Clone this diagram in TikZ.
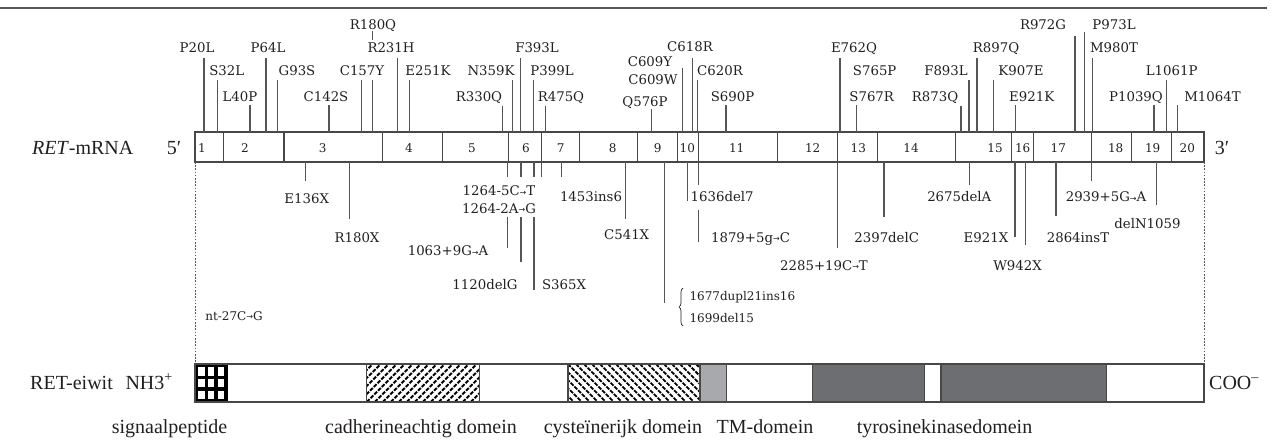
\documentclass[tikz,border=0pt]{standalone}
\usepackage{fontspec}
\setmainfont{Liberation Serif}
\newfontfamily\dvs{DejaVu Serif}
\newfontfamily\dvsans{DejaVu Sans}
\usetikzlibrary{decorations.pathreplacing}
\definecolor{lg}{HTML}{555555}
\definecolor{bx}{HTML}{474747}
\definecolor{tmgray}{HTML}{A7A9AC}
\definecolor{tkgray}{HTML}{6D6E71}
\definecolor{tx}{HTML}{231F20}
\newcommand\mutf{\dvs\fontsize{13.3}{14}\selectfont}
\newcommand\smutf{\dvs\fontsize{12}{13}\selectfont}
\newcommand\exf{\dvs\fontsize{12}{13}\selectfont}
\newcommand\bigf{\fontsize{20}{22}\selectfont}
\newcommand\arw{{\dvsans\fontsize{8}{8}\selectfont\raisebox{0.6pt}{→}}}
\tikzset{
  mut/.style={font=\mutf, text=tx, inner sep=0pt, anchor=base},
  smut/.style={font=\smutf, text=tx, inner sep=0pt, anchor=base west},
  exn/.style={font=\exf, text=tx, inner sep=0pt, anchor=base},
  big/.style={font=\bigf, text=tx, inner sep=0pt, anchor=base},
  ml/.style={draw=lg, line width=1.2pt},
  box/.style={draw=bx, line width=1.2pt},
  hatch/.style={black, line width=1.9pt, dash pattern=on 4pt off 1.3pt},
  dots/.style={draw=lg, line width=0.9pt, dash pattern=on 1.6pt off 1.6pt},
}
% name, x, top, label x, label centre y, text
\newcommand\mutU[6]{%
  \node[mut] (#1) at (#4,#5+5) {#6};
  \coordinate (#1b) at (#2,132);
  \coordinate (#1t) at (#2,#3);
  \draw[ml] (#1b) -- (#1t);}
\newcommand\mutD[6]{%
  \node[mut] (#1) at (#4,#5+5) {#6};
  \coordinate (#1b) at (#2,162);
  \coordinate (#1t) at (#2,#3);
  \draw[ml] (#1b) -- (#1t);}
\begin{document}
\begin{tikzpicture}[x=1pt,y=-1pt]
\useasboundingbox (0,0) rectangle (1279,441);
% top rule
\coordinate (rl) at (0,8); \coordinate (rr) at (1267,8);
\draw[draw=lg, line width=2.6pt] (rl) -- (rr);

% ---------- mRNA bar ----------
\node[big, anchor=base west] (mrna) at (32,154) {\textit{RET}-mRNA};
\node[big] (five) at (174,154) {5′};
\node[big] (three) at (1222,154) {3′};
\draw[box] (195,132) rectangle (1204,162);
\foreach \b in {223.3,284,382.7,442.3,508.3,541.7,579.3,637.7,677.7,698.3,777.7,837.3,877.7,955.7,1011.7,1033.3,1091.7,1131.7,1171.7}
  \draw[draw=bx, line width=1.1pt] (\b,132) -- (\b,162);
\foreach \n/\x in {1/202,2/245,3/322.7,4/409,5/472,6/526,7/560.7,8/612.7,9/657.7,10/687.3,11/736.7,12/812.7,13/858.3,14/911,15/995,16/1022.7,17/1058.3,18/1115.7,19/1152.7,20/1187.3}
  \node[exn] (e\n) at (\x,152) {\n};

% ---------- mutations above ----------
\mutU{u1}{204}{57.7}{197}{48}{P20L}
\mutU{u2}{217.3}{80}{226.7}{71}{S32L}
\mutU{u3}{250}{105}{240}{96.7}{L40P}
\mutU{u4}{266}{57.7}{268}{48}{P64L}
\mutU{u5}{277.7}{80}{297}{71}{G93S}
\mutU{u6}{329}{105}{326}{96.7}{C142S}
\mutU{u7}{361.7}{80}{362}{71}{C157Y}
\mutU{u8}{372.3}{80}{373}{25}{R180Q}
\coordinate (u8a) at (372.3,31.5); \coordinate (u8c) at (372.3,40.5);
\draw[ml] (u8a) -- (u8c);
\mutU{u9}{397.7}{57.7}{391}{48}{R231H}
\mutU{u10}{409.3}{80}{428}{71}{E251K}
\mutU{u11}{502.7}{106}{479}{96.7}{R330Q}
\mutU{u12}{512.7}{80}{491}{71}{N359K}
\mutU{u13}{520.3}{57.7}{537}{48}{F393L}
\mutU{u14}{533.3}{80}{552}{71}{P399L}
\mutU{u15}{545.7}{106}{561}{96.7}{R475Q}
\mutU{u16}{651.7}{109.3}{645}{101.7}{Q576P}
\mutU{u17}{682.7}{68.3}{650}{61.7}{C609Y}
\node[mut] (u17w) at (653,79.3+5) {C609W};
\mutU{u18}{692.7}{57.7}{690}{46.7}{C618R}
\mutU{u19}{697.7}{80}{720}{71}{C620R}
\mutU{u20}{726}{105}{732.5}{96.7}{S690P}
\mutU{u21}{840}{57.7}{854}{48}{E762Q}
\mutU{u22}{856.7}{105}{871.7}{96.7}{S767R}
\node[mut] (u22p) at (874.7,71+5) {S765P};
\mutU{u23}{961}{106}{935}{96.7}{R873Q}
\mutU{u24}{969}{80}{946}{71}{F893L}
\mutU{u25}{977}{57.7}{996}{48}{R897Q}
\mutU{u26}{993.3}{80}{1021}{71}{K907E}
\mutU{u27}{1015.7}{105}{1031.7}{96.7}{E921K}
\mutU{u28}{1075}{36}{1043}{25}{R972G}
\mutU{u29}{1084.3}{31.7}{1114}{25}{P973L}
\mutU{u30}{1092.7}{57.7}{1114}{48}{M980T}
\mutU{u31}{1166.7}{80}{1171.7}{71}{L1061P}
\mutU{u32}{1154}{105}{1136}{96.7}{P1039Q}
\mutU{u33}{1177.3}{105}{1212.5}{96.7}{M1064T}

% ---------- mutations below ----------
\mutD{d1}{305.7}{181}{306.7}{198.3}{E136X}
\mutD{d2}{349.3}{219}{357}{237.3}{R180X}
\mutD{d3}{541.7}{177.3}{499}{190.7}{1264-5C\arw T}
\node[mut] (d3b) at (499,208.3+5) {1264-2A\arw G};
\mutD{d4}{507.7}{177.3}{448}{250.7}{1063+9G\arw A}
\coordinate (d4c) at (507.7,216.7); \coordinate (d4d) at (507.7,248.3);
\draw[ml] (d4c) -- (d4d);
\mutD{d5}{521}{177.3}{485}{284}{1120delG}
\coordinate (d5c) at (521,216.7); \coordinate (d5d) at (521,262.3);
\draw[ml] (d5c) -- (d5d);
\mutD{d6}{534}{177.3}{564}{284}{S365X}
\coordinate (d6c) at (534,216.7); \coordinate (d6d) at (534,290);
\draw[ml] (d6c) -- (d6d);
\mutD{d7}{561.7}{177.3}{591}{196.7}{1453ins6}
\mutD{d8}{625.7}{219}{626.7}{234}{C541X}
\coordinate (d9b) at (664.3,162); \coordinate (d9t) at (664.3,302.7);
\draw[ml] (d9b) -- (d9t);
\coordinate (d10b) at (687.7,162); \coordinate (d10t) at (687.7,200.7);
\draw[ml] (d10b) -- (d10t);
\node[mut, anchor=base west] (d10) at (690.5,196.7+5) {1636del7};
\mutD{d11}{698.3}{185}{750.5}{237.3}{1879+5g\arw C}
\coordinate (d11c) at (698.3,210); \coordinate (d11d) at (698.3,241.7);
\draw[ml] (d11c) -- (d11d);
\mutD{d12}{837.3}{248.3}{824}{265}{2285+19C\arw T}
\mutD{d13}{884}{217.3}{886.7}{237.3}{2397delC}
\mutD{d14}{969.3}{185}{959.3}{196.7}{2675delA}
\mutD{d15}{1015}{237.3}{986}{237.3}{E921X}
\mutD{d16}{1025.7}{245}{1017.5}{265}{W942X}
\mutD{d17}{1056}{216}{1078}{237.3}{2864insT}
\mutD{d18}{1091.7}{180.7}{1106}{196.7}{2939+5G\arw A}
\mutD{d19}{1156.7}{205}{1147.5}{223.3}{delN1059}

% brace and its two labels
\node[smut] (br1) at (689.3,296+4.5) {1677dupl21ins16};
\node[smut] (br2) at (689.3,318+4.5) {1699del15};
\coordinate (bra) at (683,326); \coordinate (brb) at (683,288);
\draw[draw=tx, line width=0.7pt, decorate, decoration={brace, amplitude=4pt}] (bra) -- (brb);
\node[smut, anchor=base] (nt) at (234,316+4.5) {nt-27C\arw G};

% dotted guides
\coordinate (dl1) at (195,162); \coordinate (dl2) at (195,364);
\coordinate (dr1) at (1204,162); \coordinate (dr2) at (1204,364);
\draw[dots] (dl1) -- (dl2);
\draw[dots] (dr1) -- (dr2);

% ---------- protein bar ----------
\node[big, anchor=base west] (eiwit) at (30,389) {RET-eiwit};
\node[big, anchor=base east] (nh3) at (173,389) {NH3\textsuperscript{+}};
\node[big, anchor=base west] (coo) at (1209,389) {COO\textsuperscript{–}};
\fill[white] (195,364) rectangle (1204,402);
% signal peptide crosshatch
\fill[black] (195,364) rectangle (227.5,402);
\foreach \c in {0,1,2} \foreach \r in {0,1,2}
  \fill[white] (195+3.3+\c*9.7,364+3.3+\r*11.6) rectangle ++(6.4,8.3);
% cadherin-like hatch
\begin{scope}
  \clip (366.8,364) rectangle (479.3,402);
  \foreach \i in {-5,...,14}
    \draw[hatch] (366.8+\i*8.0,402) -- ++(38,-38);
\end{scope}
\draw[box] (366.8,364) rectangle (479.3,402);
% cysteine-rich hatch
\begin{scope}
  \clip (567.9,364) rectangle (699.9,402);
  \foreach \i in {-5,...,17}
    \draw[hatch] (567.9+\i*8.0,364) -- ++(38,38);
\end{scope}
\draw[box] (567.9,364) rectangle (699.9,402);
% TM and kinase domains
\draw[box, fill=tmgray] (699.9,364) rectangle (726.6,402);
\draw[box, fill=tkgray] (812.5,364) rectangle (924.5,402);
\draw[box, fill=tkgray] (940.9,364) rectangle (1106.7,402);
\draw[box] (195,364) rectangle (1204,402);

% domain labels
\node[big, anchor=base east] (sp) at (227.5,433) {signaalpeptide};
\node[big] (cad) at (421,433) {cadherineachtig domein};
\node[big] (cys) at (623,433) {cysteïnerijk domein};
\node[big] (tmd) at (765,433) {TM-domein};
\node[big] (tkd) at (944.5,433) {tyrosinekinasedomein};
\end{tikzpicture}
\end{document}
